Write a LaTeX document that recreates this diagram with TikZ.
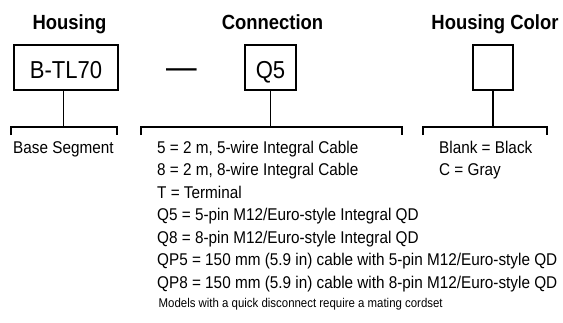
\documentclass[tikz,border=0pt]{standalone}
\usepackage{fontspec}
\setmainfont{Liberation Sans}[FakeStretch=0.9]
\begin{document}
\begin{tikzpicture}[x=1pt,y=-1pt,
  heading/.style={font=\fontsize{20.5}{22}\selectfont\bfseries, anchor=base, inner sep=0pt},
  codebox/.style={draw, line width=1.6pt, font=\fontsize{24.5}{26}\selectfont, minimum height=45pt, text height=21.5pt, text depth=0pt, inner sep=0pt},
  item/.style={font=\fontsize{17}{19}\selectfont, anchor=base west, inner sep=0pt},
  note/.style={font=\fontsize{12.7}{14}\selectfont, anchor=base west, inner sep=0pt},
  wire/.style={line width=1.6pt}]
\useasboundingbox (0,0) rectangle (563,322);
% headings
\node[heading] (hh) at (69.5,29.5) {Housing};
\node[heading] (hc) at (272.5,29.5) {Connection};
\node[heading] (hcol) at (495,29.5) {Housing Color};
% boxes
\node[codebox, minimum width=104pt] (bt) at (66,67.5) {B-TL70};
\node[codebox, minimum width=51pt] (q5) at (270.5,67.5) {Q5};
\node[codebox, minimum width=40pt] (col) at (493,67.5) {};
\node[font=\fontsize{34}{36}\selectfont, inner sep=0pt, anchor=base] (dash) at (181.5,78.3) {—};
% brackets
\coordinate (hbL) at (11,135); \coordinate (hbR) at (117,135);
\coordinate (cbL) at (141,135); \coordinate (cbR) at (402,135);
\coordinate (kbL) at (423,135); \coordinate (kbR) at (547,135);
\coordinate (hs) at (63.5,127);
\draw[wire] (hbL) -- ++(0,-8) -| (hbR);
\draw[wire] (cbL) -- ++(0,-8) -| (cbR);
\draw[wire] (kbL) -- ++(0,-8) -| (kbR);
% stems
\draw[wire] (bt.south -| hs) -- (hs);
\draw[wire] (q5.south) -- (q5.south |- hs);
\draw[wire] (col.south) -- (col.south |- hs);
% texts
\node[item] (bs) at (13,153) {Base Segment};
\node[item] (c1) at (157,153) {5 = 2 m, 5-wire Integral Cable};
\node[item] (c2) at (157,175.5) {8 = 2 m, 8-wire Integral Cable};
\node[item] (c3) at (157,198) {T = Terminal};
\node[item] (c4) at (157,220.5) {Q5 = 5-pin M12/Euro-style Integral QD};
\node[item] (c5) at (157,243) {Q8 = 8-pin M12/Euro-style Integral QD};
\node[item] (c6) at (157,265.5) {QP5 = 150 mm (5.9 in) cable with 5-pin M12/Euro-style QD};
\node[item] (c7) at (157,288) {QP8 = 150 mm (5.9 in) cable with 8-pin M12/Euro-style QD};
\node[note] (nt) at (158.5,307) {Models with a quick disconnect require a mating cordset};
\node[item] (k1) at (439,153) {Blank = Black};
\node[item] (k2) at (439,175.5) {C = Gray};
\end{tikzpicture}
\end{document}
